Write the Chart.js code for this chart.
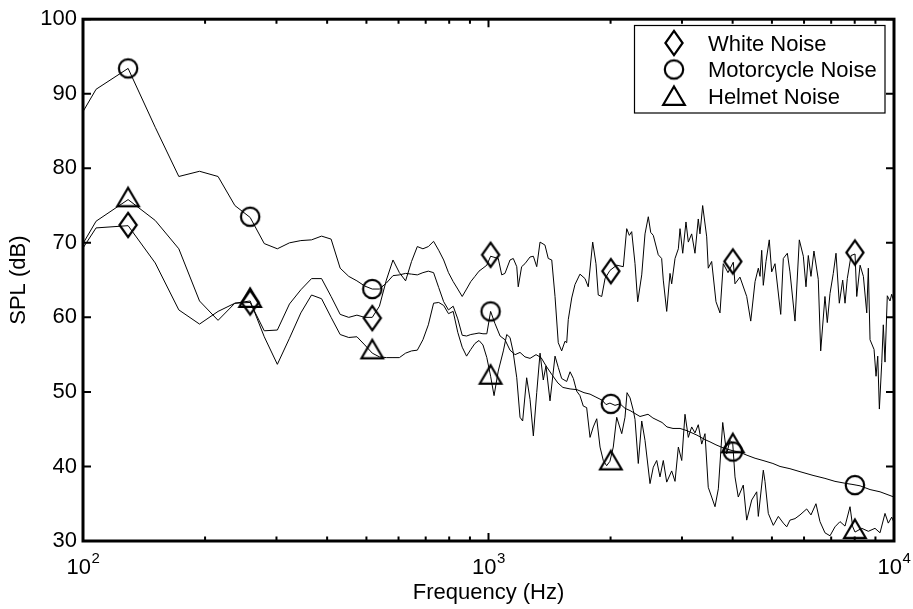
<!DOCTYPE html>
<html lang="en">
<head>
<meta charset="UTF-8">
<title>SPL vs Frequency</title>
<style>
    html, body { margin: 0; padding: 0; background: #fff; }
    #wrap { width: 913px; height: 609px; }
</style>
</head>
<body>
<div id="wrap"><canvas id="splChart" width="913" height="609"></canvas></div>

<script src="https://cdn.jsdelivr.net/npm/chart.js@4"></script>
<script>
// ---- data ----
var seriesNames = ['White Noise', 'Motorcycle Noise', 'Helmet Noise'];

var xDecades = [100, 1000, 10000];
var xMinorTicks = [200, 300, 400, 500, 600, 700, 800, 900, 2000, 3000, 4000, 5000, 6000, 7000, 8000, 9000];
var yTicks = [30, 40, 50, 60, 70, 80, 90, 100];

// low frequency FFT bins (shared by all three curves)
var lowFreq = [100, 107.7, 129.2, 150.7, 172.3, 193.8, 215.3, 236.9, 258.4, 279.9, 301.5, 323.0, 344.5,
    366.1, 387.6, 409.1, 430.7, 452.2, 473.7, 495.3, 516.8, 538.3, 559.9, 581.4, 602.9, 624.5, 646.0,
    667.5, 689.1, 710.6, 732.1, 753.7, 775.2, 796.7, 818.3, 839.8, 861.3, 882.9, 904.4, 925.9, 947.5,
    969.0, 990.5, 1012.1];

var whiteLow = [69.3, 72.0, 72.3, 67.3, 61.0, 59.1, 60.8, 61.9, 62.0, 58.2, 58.3, 61.8, 63.7, 65.2, 65.2,
    62.8, 60.4, 60.0, 60.3, 60.0, 60.0, 61.5, 65.0, 67.7, 66.0, 64.9, 67.5, 69.5, 69.2, 69.5, 70.2, 69.0,
    67.7, 66.0, 64.8, 63.8, 62.8, 63.8, 64.8, 65.5, 66.2, 66.6, 67.0, 68.2];
var motoLow = [87.6, 90.6, 93.4, 85.5, 78.9, 79.6, 78.9, 75.0, 73.4, 69.9, 69.2, 70.0, 70.3, 70.4, 70.9,
    70.5, 66.6, 65.5, 64.9, 64.2, 63.8, 63.8, 64.6, 65.6, 65.7, 65.9, 65.8, 65.7, 66.0, 66.2, 66.0, 64.0,
    62.1, 61.0, 61.5, 59.8, 57.6, 57.5, 57.7, 57.8, 57.9, 57.8, 57.8, 60.8];
var helmetLow = [69.9, 72.9, 75.8, 73.0, 69.2, 62.2, 59.6, 61.9, 62.2, 57.4, 53.7, 57.2, 60.6, 63.0, 62.5,
    60.0, 57.7, 57.3, 57.4, 56.3, 55.2, 54.7, 54.6, 54.6, 54.6, 55.2, 55.5, 55.6, 57.0, 59.0, 61.9, 62.0,
    61.6, 60.5, 60.8, 58.0, 56.0, 54.8, 55.7, 56.5, 56.9, 56.3, 54.6, 52.1];

// high frequency parts (peaks and dips sampled)
var whiteHighFreq = [1057, 1078, 1098, 1130, 1151, 1174, 1184, 1207, 1230, 1266, 1290, 1315, 1340, 1378,
    1404, 1432, 1459, 1486, 1515, 1544, 1559, 1573, 1604, 1634, 1681, 1730, 1762, 1807, 1841, 1865, 1902,
    1938, 1993, 2071, 2150, 2192, 2225, 2255, 2298, 2333, 2387, 2432, 2478, 2512, 2549, 2622, 2673, 2698,
    2751, 2803, 2830, 2884, 2939, 2967, 3013, 3069, 3110, 3170, 3230, 3291, 3323, 3374, 3452, 3483, 3551,
    3639, 3723, 3793, 3896, 4015, 4054, 4170, 4333, 4433, 4543, 4628, 4673, 4718, 4761, 4834, 4925, 4993,
    5088, 5256, 5334, 5457, 5539, 5700, 5841, 5976, 6067, 6147, 6241, 6347, 6505, 6595, 6757, 6847, 6953,
    7084, 7194, 7330, 7473, 7572, 7670, 7835, 8015, 8093, 8248, 8404, 8566, 8644, 8728, 8929, 9030, 9118,
    9203, 9328, 9411, 9502, 9627, 9775, 9870, 10000];
var whiteHighSpl = [67.9, 65.7, 65.9, 67.7, 67.9, 66.8, 64.1, 66.8, 67.2, 68.1, 68.2, 66.8, 70.1, 69.7,
    67.9, 67.7, 62.8, 56.6, 55.5, 56.8, 56.6, 59.7, 62.6, 64.4, 65.8, 65.2, 64.1, 70.1, 67.2, 63.0, 62.8,
    65.2, 66.3, 67.0, 66.8, 71.9, 71.0, 71.5, 67.2, 62.1, 65.7, 71.2, 73.5, 71.4, 71.0, 68.4, 67.9, 65.0,
    60.8, 65.9, 64.5, 67.9, 69.2, 71.9, 68.6, 72.8, 70.1, 71.2, 68.6, 73.2, 71.2, 75.0, 70.8, 66.6, 67.5,
    62.1, 60.6, 67.2, 66.0, 67.4, 64.5, 65.4, 62.8, 59.5, 64.8, 66.6, 65.5, 69.0, 64.3, 67.5, 70.4, 66.1,
    67.2, 60.4, 67.9, 68.6, 66.1, 59.5, 70.4, 68.2, 64.1, 68.3, 65.5, 68.9, 65.1, 55.5, 62.8, 59.3, 63.2,
    65.9, 68.6, 61.9, 65.0, 61.9, 65.2, 68.3, 68.5, 62.8, 67.0, 65.5, 60.6, 66.6, 57.0, 55.7, 52.1, 54.8,
    47.7, 53.9, 59.0, 54.0, 62.9, 62.2, 63.1, 62.0];

var motoHighFreq = [1037, 1068, 1098, 1130, 1163, 1196, 1230, 1266, 1310, 1348, 1386, 1434, 1483, 1526,
    1589, 1653, 1720, 1780, 1841, 1905, 1949, 1993, 2051, 2110, 2171, 2234, 2364, 2474, 2544, 2679, 2755,
    2851, 2967, 3087, 3267, 3419, 3517, 3639, 3787, 4009, 4170, 4341, 4543, 4753, 5028, 5235, 5539, 5864,
    6314, 6757, 7153, 7657, 7878, 8061, 8248, 8728, 9237, 10000];
var motoHighSpl = [59.2, 57.5, 57.0, 55.6, 55.0, 55.3, 54.7, 54.5, 55.0, 54.6, 53.5, 52.3, 51.2, 50.6,
    50.4, 50.3, 49.9, 49.7, 49.3, 48.9, 48.3, 48.5, 48.2, 48.4, 47.8, 47.5, 46.7, 47.0, 46.5, 45.9, 45.3,
    45.1, 45.1, 44.8, 44.2, 43.6, 43.3, 42.9, 42.5, 42.1, 41.9, 41.5, 41.1, 40.8, 40.4, 40.0, 39.7, 39.3,
    38.8, 38.4, 38.0, 37.7, 37.6, 37.5, 37.4, 36.9, 36.6, 35.9];

var helmetHighFreq = [1032, 1057, 1088, 1109, 1130, 1149, 1174, 1196, 1214, 1242, 1266, 1290, 1315, 1340,
    1365, 1386, 1418, 1459, 1486, 1515, 1559, 1589, 1619, 1650, 1681, 1713, 1746, 1780, 1813, 1849, 1884,
    1919, 1956, 1993, 2031, 2071, 2131, 2171, 2196, 2234, 2276, 2298, 2341, 2387, 2432, 2502, 2549, 2599,
    2648, 2698, 2751, 2830, 2884, 2939, 2996, 3052, 3110, 3170, 3230, 3291, 3356, 3419, 3483, 3551, 3619,
    3688, 3781, 3867, 3940, 4002, 4054, 4130, 4249, 4333, 4458, 4586, 4628, 4761, 4807, 4898, 5039, 5185,
    5334, 5438, 5539, 5700, 5864, 6091, 6241, 6420, 6568, 6757, 6953, 7153, 7359, 7572, 7790, 7911, 8015,
    8326, 8644, 8978, 9237, 9502, 9681, 9870, 10000];
var helmetHighSpl = [49.5, 52.8, 55.5, 57.7, 57.3, 55.5, 51.9, 46.6, 46.1, 51.9, 49.0, 44.1, 49.9, 55.2,
    51.6, 53.5, 48.8, 54.8, 53.3, 51.8, 51.4, 52.7, 51.8, 50.1, 49.5, 48.1, 47.9, 43.9, 45.3, 46.4, 42.6,
    40.8, 40.1, 40.7, 42.6, 46.6, 44.4, 46.6, 49.9, 49.2, 47.5, 46.3, 40.4, 46.1, 43.5, 37.7, 39.9, 40.8,
    38.6, 40.8, 37.9, 39.4, 38.0, 42.6, 40.8, 47.0, 43.9, 45.3, 44.5, 45.6, 43.0, 44.4, 37.2, 35.9, 34.6,
    37.0, 45.9, 41.7, 43.5, 43.1, 38.6, 35.9, 37.5, 32.8, 35.5, 36.6, 33.3, 39.5, 38.0, 33.7, 32.1, 33.3,
    32.4, 31.9, 32.8, 33.0, 33.5, 34.3, 33.5, 35.0, 32.6, 31.1, 30.7, 31.9, 32.6, 32.0, 34.6, 31.9, 31.2,
    31.7, 31.3, 31.7, 31.1, 33.7, 32.4, 33.2, 32.5];

// octave-band markers
var markerFreq = [129.2, 258.4, 516.8, 1012, 2003, 4005, 8010];
var whiteMarkers = [72.4, 62.0, 59.9, 68.4, 66.2, 67.5, 68.7];
var motoMarkers = [93.4, 73.5, 63.8, 60.8, 48.4, 42.0, 37.5];
var helmetMarkers = [76.1, 62.6, 55.7, 52.3, 40.8, 43.1, 31.6];

// ---- helpers ----
function toPoints(freqs, values) {
    var pts = [];
    for (var i = 0; i < freqs.length; i++) {
        pts.push({ x: freqs[i], y: values[i] });
    }
    return pts;
}

// MATLAB-like open markers drawn once onto small canvases
function makeMarker(shape) {
    var c = document.createElement('canvas');
    c.width = 34;
    c.height = 34;
    var g = c.getContext('2d');
    g.strokeStyle = '#000';
    g.lineWidth = 2.2;
    g.beginPath();
    if (shape === 'diamond') {
        g.moveTo(17, 4.8);
        g.lineTo(25.6, 17);
        g.lineTo(17, 29.2);
        g.lineTo(8.4, 17);
        g.closePath();
    } else if (shape === 'circle') {
        g.arc(17, 17, 9.2, 0, Math.PI * 2);
    } else {
        g.moveTo(17, 7.5);
        g.lineTo(27.8, 25.8);
        g.lineTo(6.2, 25.8);
        g.closePath();
    }
    g.stroke();
    return c;
}

var markerImgs = [makeMarker('diamond'), makeMarker('circle'), makeMarker('triangle')];
var fontFamily = '"Liberation Sans", Arial, Helvetica, sans-serif';

// box, inward ticks, 10^n labels and the legend
var matlabFrame = {
    id: 'matlabFrame',
    afterDraw: function (chart) {
        var ctx = chart.ctx;
        var area = chart.chartArea;
        var xs = chart.scales.x;
        var ys = chart.scales.y;
        ctx.save();
        ctx.strokeStyle = '#000';
        ctx.fillStyle = '#000';

        ctx.lineWidth = 2;
        ctx.beginPath();
        yTicks.forEach(function (v) {
            var py = ys.getPixelForValue(v);
            ctx.moveTo(area.left, py); ctx.lineTo(area.left + 8, py);
            ctx.moveTo(area.right, py); ctx.lineTo(area.right - 8, py);
        });
        xMinorTicks.forEach(function (v) {
            var px = xs.getPixelForValue(v);
            ctx.moveTo(px, area.bottom); ctx.lineTo(px, area.bottom - 4.5);
            ctx.moveTo(px, area.top); ctx.lineTo(px, area.top + 4.5);
        });
        xDecades.forEach(function (v) {
            var px = xs.getPixelForValue(v);
            ctx.moveTo(px, area.bottom); ctx.lineTo(px, area.bottom - 8);
            ctx.moveTo(px, area.top); ctx.lineTo(px, area.top + 8);
        });
        ctx.stroke();

        ctx.lineWidth = 3;
        ctx.strokeRect(area.left, area.top, area.right - area.left, area.bottom - area.top);

        // x tick labels as 10 with a raised exponent
        ctx.textBaseline = 'alphabetic';
        ctx.textAlign = 'left';
        xDecades.forEach(function (v) {
            var px = xs.getPixelForValue(v);
            var expText = String(Math.round(Math.log10(v)));
            ctx.font = '22px ' + fontFamily;
            var wBase = ctx.measureText('10').width;
            ctx.font = '15px ' + fontFamily;
            var wExp = ctx.measureText(expText).width;
            var start = px - (wBase + wExp) / 2;
            ctx.font = '22px ' + fontFamily;
            ctx.fillText('10', start, area.bottom + 33);
            ctx.font = '15px ' + fontFamily;
            ctx.fillText(expText, start + wBase + 0.5, area.bottom + 22);
        });

        // legend box
        var lx = 634.5, ly = 25.5, lw = 250.5, lh = 87.5;
        ctx.fillStyle = '#fff';
        ctx.fillRect(lx, ly, lw, lh);
        ctx.lineWidth = 1.2;
        ctx.strokeRect(lx, ly, lw, lh);
        ctx.fillStyle = '#000';
        ctx.font = '22px ' + fontFamily;
        for (var i = 0; i < seriesNames.length; i++) {
            var rowY = 43 + i * 26.5;
            ctx.drawImage(markerImgs[i], 674 - 17, rowY - 17);
            ctx.fillText(seriesNames[i], 708, rowY + 7.5);
        }
        ctx.restore();
    }
};

// ---- chart ----
Chart.defaults.font.family = fontFamily;
Chart.defaults.color = '#000';

var ctx = document.getElementById('splChart').getContext('2d');
var splChart = new Chart(ctx, {
    type: 'line',
    data: {
        datasets: [
            { label: seriesNames[0], data: toPoints(markerFreq, whiteMarkers), showLine: false,
              pointStyle: markerImgs[0], pointRadius: 10, clip: false, order: 0 },
            { label: seriesNames[1], data: toPoints(markerFreq, motoMarkers), showLine: false,
              pointStyle: markerImgs[1], pointRadius: 10, clip: false, order: 0 },
            { label: seriesNames[2], data: toPoints(markerFreq, helmetMarkers), showLine: false,
              pointStyle: markerImgs[2], pointRadius: 10, clip: false, order: 0 },
            { label: seriesNames[0] + ' spectrum', data: toPoints(lowFreq.concat(whiteHighFreq), whiteLow.concat(whiteHighSpl)),
              borderColor: '#000', borderWidth: 1, pointRadius: 0, tension: 0, order: 1 },
            { label: seriesNames[1] + ' spectrum', data: toPoints(lowFreq.concat(motoHighFreq), motoLow.concat(motoHighSpl)),
              borderColor: '#000', borderWidth: 1, pointRadius: 0, tension: 0, order: 1 },
            { label: seriesNames[2] + ' spectrum', data: toPoints(lowFreq.concat(helmetHighFreq), helmetLow.concat(helmetHighSpl)),
              borderColor: '#000', borderWidth: 1, pointRadius: 0, tension: 0, order: 1 }
        ]
    },
    options: {
        responsive: false,
        animation: false,
        devicePixelRatio: 1,
        layout: { padding: { left: 0, top: 16, right: 19, bottom: 0 } },
        plugins: {
            legend: { display: false },
            tooltip: { enabled: false }
        },
        scales: {
            x: {
                type: 'logarithmic',
                min: 100,
                max: 10000,
                ticks: { display: false },
                grid: { display: false, drawTicks: false },
                border: { display: false },
                title: {
                    display: true,
                    text: 'Frequency (Hz)',
                    color: '#000',
                    font: { size: 22 },
                    padding: { top: 0, bottom: 3 }
                },
                afterFit: function (scale) { scale.height = 68; }
            },
            y: {
                min: 30,
                max: 100,
                ticks: { stepSize: 10, padding: 6, color: '#000', font: { size: 22 } },
                grid: { display: false, drawTicks: false },
                border: { display: false },
                title: {
                    display: true,
                    text: 'SPL (dB)',
                    color: '#000',
                    font: { size: 22 },
                    padding: { top: 6, bottom: 0 }
                },
                afterFit: function (scale) { scale.width = 83; }
            }
        }
    },
    plugins: [matlabFrame]
});
</script>
</body>
</html>
